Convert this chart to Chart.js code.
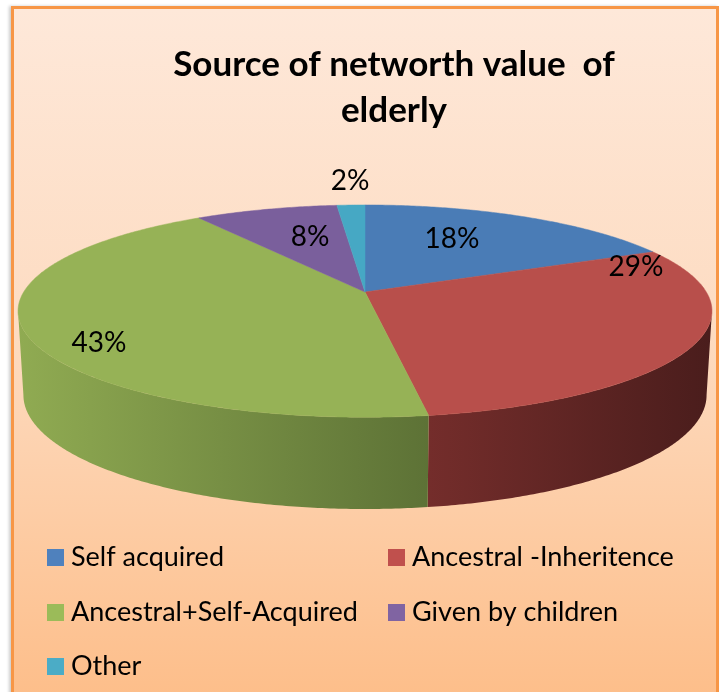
<!DOCTYPE html>
<html>
<head>
<meta charset="utf-8">
<title>Source of networth value of elderly</title>
<script src="https://cdn.jsdelivr.net/npm/chart.js@4"></script>
<style>
  html, body { margin: 0; padding: 0; background: #fff; overflow: hidden; }
  #frame {
    position: absolute; left: 11px; top: 6px; width: 702px; height: 700px;
    border: 3px solid #f79646; box-shadow: -2px 0 3px #ccc;
    background: linear-gradient(#fee8d9 0%, #fddcc2 45%, #fdbd88 100%);
  }
  #reportChart { position: absolute; left: 0; top: 0; }
</style>
</head>
<body>
<div id="frame"></div>
<canvas id="reportChart" width="720" height="692"></canvas>
<script>
// Datos
const categories = ["Self acquired", "Ancestral -Inheritence", "Ancestral+Self-Acquired", "Given by children", "Other"];
const shares = [18.1, 29.45, 43, 7.9, 1.55];
const titleLines = ["Source of networth value  of", "elderly"];

const legendColors = ["#4f81bd", "#c0504d", "#9bbb59", "#8064a2", "#4bacc6"];
const faceColors = ["#4a7cb6", "#b84f4b", "#96b256", "#7a5f9c", "#46a8c4"];
// degradado de la pared frontal: izquierda, derecha
const wallColors = [null, ["#742d2b", "#4a1d1c"], ["#90ab52", "#5d7236"], null, null];

// posicion de los textos
const labelSpots = [[452, 239], [636, 267], [99, 343], [310, 237], [350, 181]];
const legendSpots = [[47, 549], [388, 549], [47, 604], [388, 604], [47, 658]];

// proyeccion en perspectiva del circulo unidad
const persp = 0.18;
const top3d = { x: 365, y: 292, rx: 341.3, ry: 102.7 };
const bottom3d = { x: 365, y: 374.5, rx: 336, ry: 110.3 };

function project(shape, a) {
    const w = 1 - persp * Math.sin(a);
    return [shape.x + shape.rx * Math.cos(a) / w, shape.y + shape.ry * Math.sin(a) / w];
}

function traceArc(ctx, shape, from, to) {
    const steps = Math.max(2, Math.ceil(Math.abs(to - from) / 0.01));
    for (let i = 0; i <= steps; i++) {
        const p = project(shape, from + (to - from) * i / steps);
        ctx.lineTo(p[0], p[1]);
    }
}

const pie3d = {
    id: "pie3d",
    beforeDatasetDraw() {
        return false; // la tarta se dibuja abajo, con perspectiva
    },
    afterDatasetsDraw(chart) {
        const ctx = chart.ctx;
        const arcs = chart.getDatasetMeta(0).data;
        const front0 = Math.asin(persp);
        const front1 = Math.PI - front0;

        // paredes
        arcs.forEach((arc, i) => {
            if (!wallColors[i]) return;
            const from = Math.max(arc.startAngle, front0);
            const to = Math.min(arc.endAngle, front1);
            if (to <= from) return;
            const x0 = project(top3d, from)[0];
            const x1 = project(top3d, to)[0];
            const grad = ctx.createLinearGradient(Math.min(x0, x1), 0, Math.max(x0, x1), 0);
            grad.addColorStop(0, wallColors[i][0]);
            grad.addColorStop(1, wallColors[i][1]);
            ctx.beginPath();
            traceArc(ctx, top3d, from, to);
            traceArc(ctx, bottom3d, to, from);
            ctx.closePath();
            ctx.fillStyle = grad;
            ctx.fill();
        });

        // cara superior
        arcs.forEach((arc, i) => {
            ctx.beginPath();
            ctx.moveTo(top3d.x, top3d.y);
            traceArc(ctx, top3d, arc.startAngle, arc.endAngle);
            ctx.closePath();
            ctx.fillStyle = faceColors[i];
            ctx.strokeStyle = faceColors[i];
            ctx.lineWidth = 0.5;
            ctx.fill();
            ctx.stroke();
        });

        // etiquetas de porcentaje
        ctx.fillStyle = "#000";
        ctx.font = "28px Lato";
        ctx.textAlign = "center";
        ctx.textBaseline = "middle";
        shares.forEach((v, i) => {
            ctx.fillText(Math.round(v) + "%", labelSpots[i][0], labelSpots[i][1]);
        });

        // leyenda
        ctx.font = "27px Lato";
        ctx.textAlign = "left";
        categories.forEach((name, i) => {
            const s = legendSpots[i];
            ctx.fillStyle = legendColors[i];
            ctx.fillRect(s[0], s[1], 17, 17);
            ctx.fillStyle = "#000";
            ctx.fillText(name, s[0] + 24, s[1] + 8);
        });
    }
};

const ctx = document.getElementById("reportChart").getContext("2d");

new Chart(ctx, {
    type: "pie",
    data: {
        labels: categories,
        datasets: [{
            data: shares,
            backgroundColor: legendColors,
            borderWidth: 0
        }]
    },
    options: {
        responsive: false,
        animation: false,
        layout: { padding: { left: 68, top: 0 } },
        plugins: {
            legend: { display: false },
            tooltip: { enabled: false },
            title: {
                display: true,
                text: titleLines,
                color: "#000",
                font: { family: "Lato", size: 35, weight: "bold", lineHeight: 1.33 },
                padding: { top: 41, bottom: 10 }
            }
        }
    },
    plugins: [pie3d]
});
</script>
</body>
</html>
